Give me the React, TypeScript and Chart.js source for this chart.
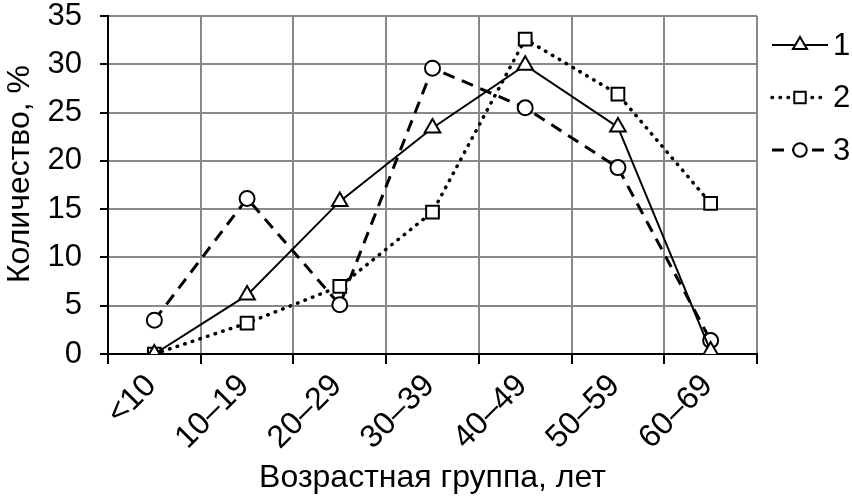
import React, { useEffect, useRef } from "react";
import { Chart, registerables } from "chart.js";

Chart.register(...registerables);

const categories = ["<10", "10–19", "20–29", "30–39", "40–49", "50–59", "60–69"];
const series1 = [0, 6.1, 15.8, 23.4, 29.9, 23.5, 0.3];
const series2 = [0, 3.2, 7.0, 14.7, 32.6, 26.9, 15.6];
const series3 = [3.5, 16.1, 5.1, 29.6, 25.5, 19.3, 1.4];
const seriesNames = ["1", "2", "3"];
const yTitle = "Количество, %";
const xTitle = "Возрастная группа, лет";

const FONT = "'Liberation Sans', Arial, sans-serif";

function drawMarker(ctx: CanvasRenderingContext2D, style: string, x: number, y: number, r: number) {
  ctx.beginPath();
  if (style === "triangle") {
    let rad = 0;
    ctx.moveTo(x + Math.sin(rad) * r, y - Math.cos(rad) * r);
    rad += (2 * Math.PI) / 3;
    ctx.lineTo(x + Math.sin(rad) * r, y - Math.cos(rad) * r);
    rad += (2 * Math.PI) / 3;
    ctx.lineTo(x + Math.sin(rad) * r, y - Math.cos(rad) * r);
    ctx.closePath();
  } else if (style === "rect") {
    const s = Math.SQRT1_2 * r;
    ctx.rect(x - s, y - s, 2 * s, 2 * s);
  } else {
    ctx.arc(x, y, r, 0, Math.PI * 2);
  }
  ctx.fill();
  ctx.stroke();
}

const legendPlugin = {
  id: "customLegend",
  afterDraw(chart: any) {
    const ctx: CanvasRenderingContext2D = chart.ctx;
    const area = chart.chartArea;
    const x0 = area.right + 15;
    const x1 = area.right + 71;
    const xm = (x0 + x1) / 2;
    chart.data.datasets.forEach((ds: any, i: number) => {
      const y = area.top + 29 + i * 52.5;
      ctx.save();
      ctx.strokeStyle = "#000";
      ctx.lineWidth = ds.borderWidth;
      ctx.lineCap = ds.borderCapStyle || "butt";
      ctx.setLineDash(ds.borderDash || []);
      ctx.beginPath();
      ctx.moveTo(x0, y);
      ctx.lineTo(x1, y);
      ctx.stroke();
      ctx.setLineDash([]);
      ctx.fillStyle = "#fff";
      ctx.lineWidth = ds.pointBorderWidth;
      drawMarker(ctx, ds.pointStyle, xm, y, ds.pointRadius * 0.9);
      ctx.fillStyle = "#000";
      ctx.font = `31px ${FONT}`;
      ctx.textAlign = "left";
      ctx.textBaseline = "middle";
      ctx.fillText(ds.label, x1 + 5, y + 1);
      ctx.restore();
    });
  },
};

const yTitlePlugin = {
  id: "yTitle",
  afterDraw(chart: any) {
    const ctx: CanvasRenderingContext2D = chart.ctx;
    const area = chart.chartArea;
    ctx.save();
    ctx.translate(20, (area.top + area.bottom) / 2 - 11);
    ctx.rotate(-Math.PI / 2);
    ctx.fillStyle = "#000";
    ctx.font = `32px ${FONT}`;
    ctx.textAlign = "center";
    ctx.textBaseline = "middle";
    ctx.fillText(yTitle, 0, 0);
    ctx.restore();
  },
};

export default function App() {
  const ref = useRef<HTMLCanvasElement | null>(null);

  useEffect(() => {
    document.body.style.margin = "0";
    if (!ref.current) return;
    const common = {
      borderColor: "#000",
      pointBorderColor: "#000",
      pointBackgroundColor: "#fff",
      pointBorderWidth: 2,
      fill: false,
      tension: 0,
    };
    const chart = new Chart(ref.current, {
      type: "line",
      data: {
        labels: categories,
        datasets: [
          {
            ...common,
            label: seriesNames[0],
            data: series1,
            borderWidth: 2,
            borderDash: [],
            pointStyle: "triangle",
            pointRadius: 9,
          },
          {
            ...common,
            label: seriesNames[1],
            data: series2,
            borderWidth: 3.5,
            borderDash: [0.5, 7.5],
            borderCapStyle: "round",
            pointStyle: "rect",
            pointRadius: 9,
          },
          {
            ...common,
            label: seriesNames[2],
            data: series3,
            borderWidth: 3,
            borderDash: [12, 8],
            pointStyle: "circle",
            pointRadius: 7.5,
          },
        ] as any,
      },
      options: {
        responsive: false,
        animation: false,
        layout: { padding: { top: 0, right: 95, left: 0, bottom: 0 } },
        plugins: {
          legend: { display: false },
          tooltip: { enabled: false },
        },
        scales: {
          x: {
            offset: true,
            grid: {
              offset: true,
              color: "#888",
              lineWidth: 2,
              tickColor: "#000",
              tickLength: 10,
              drawTicks: true,
            },
            border: { color: "#000", width: 2 },
            ticks: {
              color: "#000",
              font: { family: FONT, size: 32 },
              maxRotation: 45,
              minRotation: 45,
              padding: 3,
              labelOffset: -3,
            },
            title: {
              display: true,
              text: xTitle,
              color: "#000",
              font: { family: FONT, size: 32 },
              padding: { top: 0, bottom: 0 },
            },
            afterFit: (scale: any) => {
              scale.height = 143;
            },
          },
          y: {
            min: 0,
            max: 35,
            grid: {
              color: "#888",
              lineWidth: 2,
              tickColor: "#000",
              tickLength: 8,
            },
            border: { color: "#000", width: 2 },
            ticks: {
              stepSize: 5,
              color: "#000",
              font: { family: FONT, size: 31 },
              padding: 18,
            },
            title: { display: false },
            afterFit: (scale: any) => {
              scale.width = 108;
              scale.paddingTop = 16;
              scale.paddingBottom = 16;
            },
          },
        },
      } as any,
      plugins: [legendPlugin, yTitlePlugin],
    });
    return () => chart.destroy();
  }, []);

  return (
    <div style={{ width: 852, height: 497 }}>
      <canvas ref={ref} width={852} height={497} />
    </div>
  );
}
